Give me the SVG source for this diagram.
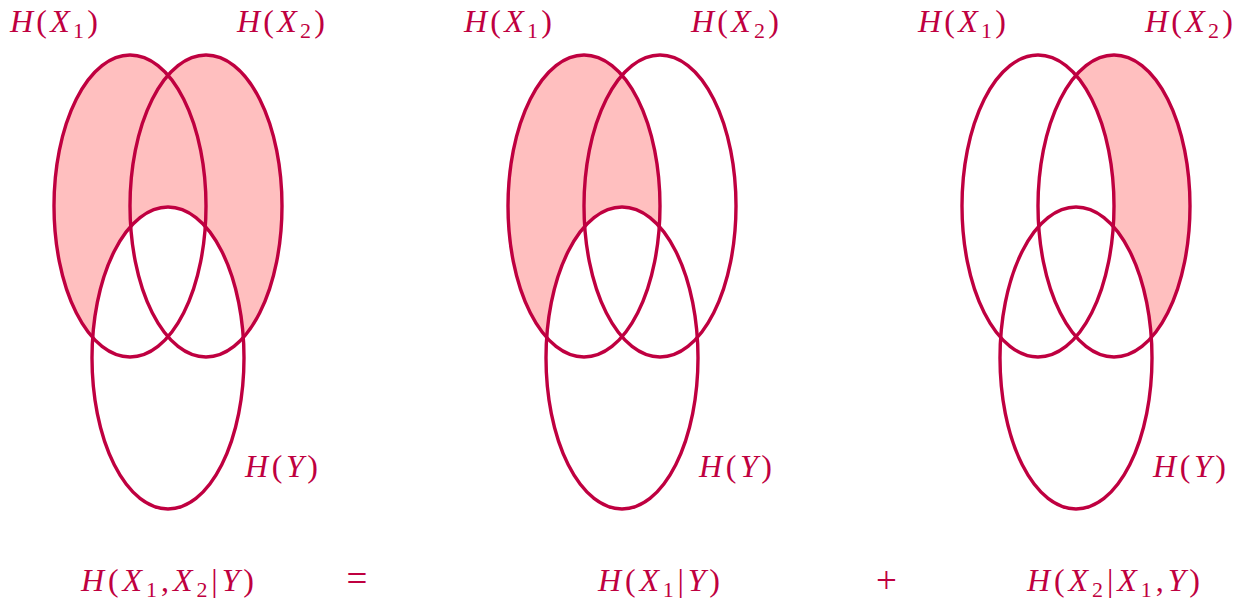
<svg xmlns="http://www.w3.org/2000/svg" width="1241" height="603" viewBox="0 0 1241 603">
<style>
.e{fill:none;stroke:#BF0040;stroke-width:3.4}
.p{fill:#FFBFBF;stroke:none}
.w{fill:#FFFFFF;stroke:none}
text{font-family:"Liberation Serif","DejaVu Serif",serif;font-size:32px;fill:#BF0040}
.i{font-style:italic}
.s{font-size:22px}
.op{font-size:37px}
</style>
<defs>
<ellipse id="x1" cx="130" cy="206" rx="76" ry="151"/>
<ellipse id="x2" cx="206" cy="206" rx="76" ry="151"/>
<ellipse id="y" cx="168" cy="358" rx="76" ry="151"/>
<g id="lab">
<text x="10" y="32" textLength="88" lengthAdjust="spacing"><tspan class="i">H</tspan>(<tspan class="i">X</tspan><tspan class="s" dy="6">1</tspan><tspan dy="-6">)</tspan></text>
<text x="237" y="32" textLength="88" lengthAdjust="spacing"><tspan class="i">H</tspan>(<tspan class="i">X</tspan><tspan class="s" dy="6">2</tspan><tspan dy="-6">)</tspan></text>
<text x="245" y="477" textLength="73" lengthAdjust="spacing"><tspan class="i">H</tspan>(<tspan class="i">Y</tspan>)</text>
</g>
</defs>
<g id="venn1">
<use href="#x1" class="p"/><use href="#x2" class="p"/><use href="#y" class="w"/>
<use href="#x1" class="e"/><use href="#x2" class="e"/><use href="#y" class="e"/>
<use href="#lab"/>
</g>
<g id="venn2" transform="translate(454,0)">
<use href="#x1" class="p"/><use href="#y" class="w"/>
<use href="#x1" class="e"/><use href="#x2" class="e"/><use href="#y" class="e"/>
<use href="#lab"/>
</g>
<g id="venn3" transform="translate(908,0)">
<use href="#x2" class="p"/><use href="#x1" class="w"/><use href="#y" class="w"/>
<use href="#x1" class="e"/><use href="#x2" class="e"/><use href="#y" class="e"/>
<use href="#lab"/>
</g>
<g id="equation">
<text x="81" y="591" textLength="173" lengthAdjust="spacing"><tspan class="i">H</tspan>(<tspan class="i">X</tspan><tspan class="s" dy="6">1</tspan><tspan dy="-6">,</tspan><tspan class="i">X</tspan><tspan class="s" dy="6">2</tspan><tspan dy="-6">|</tspan><tspan class="i">Y</tspan>)</text>
<text class="op" x="357" y="591" text-anchor="middle">=</text>
<text x="598" y="591" textLength="122" lengthAdjust="spacing"><tspan class="i">H</tspan>(<tspan class="i">X</tspan><tspan class="s" dy="6">1</tspan><tspan dy="-6">|</tspan><tspan class="i">Y</tspan>)</text>
<text class="op" x="886.5" y="593" text-anchor="middle">+</text>
<text x="1027" y="591" textLength="173" lengthAdjust="spacing"><tspan class="i">H</tspan>(<tspan class="i">X</tspan><tspan class="s" dy="6">2</tspan><tspan dy="-6">|</tspan><tspan class="i">X</tspan><tspan class="s" dy="6">1</tspan><tspan dy="-6">,</tspan><tspan class="i">Y</tspan>)</text>
</g>
</svg>
